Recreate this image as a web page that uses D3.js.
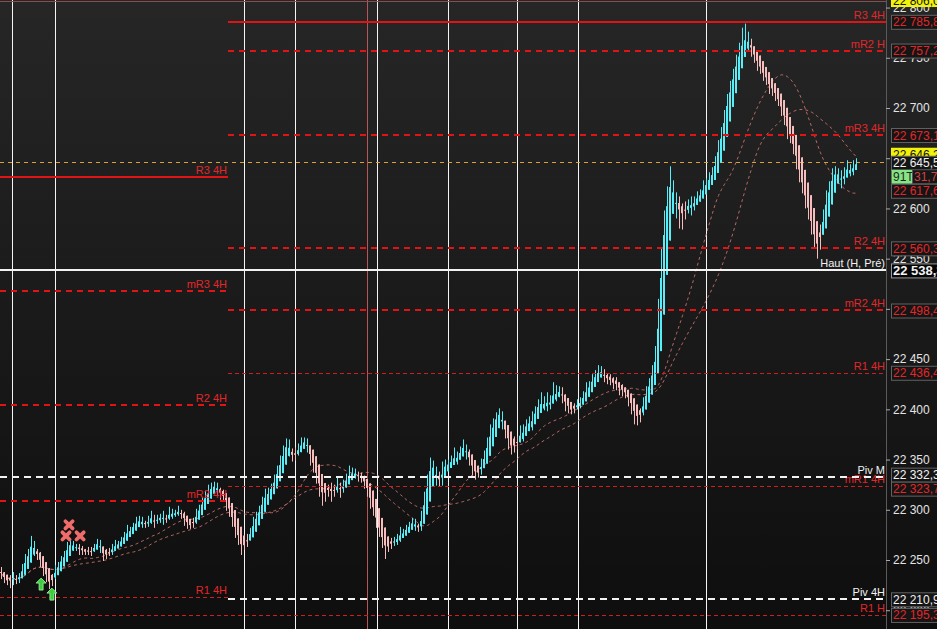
<!DOCTYPE html>
<html><head><meta charset="utf-8">
<script src="https://cdn.jsdelivr.net/npm/d3@7"></script>
<style>html,body{margin:0;padding:0;background:#161616;overflow:hidden}svg{display:block}</style>
</head><body>
<svg id="chart" width="937" height="629"></svg>
<script>
// ---------------- DATA ----------------
const firstOpen = 22240;
const closes = [
22236,22231,22228,22233,22229,22232,22235,22242,22250,22258,
22266,22259,22254,22246,22240,22232,22227,22233,22240,22246,
22250,22256,22262,22266,22264,22262,22261,22259,22258,22257,
22260,22264,22267,22261,22254,22256,22259,22262,22264,22267,
22270,22274,22277,22281,22284,22287,22290,22287,22285,22289,
22292,22288,22291,22294,22290,22292,22295,22297,22296,22298,
22295,22290,22286,22284,22289,22296,22302,22308,22313,22318,
22322,22324,22320,22316,22312,22306,22298,22289,22280,22271,
22264,22266,22272,22279,22287,22294,22301,22308,22313,22318,
22323,22330,22340,22348,22357,22366,22358,22352,22356,22361,
22365,22368,22362,22352,22343,22333,22323,22316,22319,22322,
22318,22321,22324,22320,22326,22330,22334,22337,22335,22333,
22331,22327,22318,22308,22298,22288,22278,22270,22263,22265,
22267,22270,22272,22275,22278,22281,22285,22288,22284,22282,
22295,22312,22330,22345,22340,22332,22328,22340,22345,22346,
22348,22350,22354,22358,22362,22356,22349,22342,22336,22338,
22346,22355,22366,22377,22386,22393,22395,22385,22377,22368,
22361,22365,22370,22374,22380,22386,22384,22392,22399,22405,
22402,22407,22404,22409,22413,22416,22418,22412,22406,22401,
22399,22402,22404,22408,22413,22419,22424,22429,22434,22437,
22436,22433,22430,22428,22426,22424,22421,22419,22416,22411,
22405,22397,22392,22398,22408,22418,22428,22438,22455,22505,
22555,22590,22612,22622,22612,22604,22600,22597,22601,22605,
22603,22608,22611,22614,22620,22626,22630,22636,22648,22662,
22676,22694,22708,22722,22735,22745,22755,22762,22768,22764,
22757,22750,22745,22738,22733,22728,22722,22718,22712,22706,
22698,22688,22677,22670,22660,22647,22632,22620,22608,22595,
22582,22570,22565,22578,22595,22610,22622,22630,22636,22633,
22628,22635,22640,22637,22642,22645];
const upperWicks = [
3,2,4,2,5,3,2,4,6,3, 8,3,2,4,2,3,2,3,5,2, 4,3,6,5,3,2,4,3,2,5, 3,2,4,3,2,5,3,4,6,2,
3,4,8,2,3,6,4,3,2,5, 7,3,4,2,5,3,8,4,3,6, 2,3,4,2,3,5,3,4,6,7, 5,4,3,2,4,3,2,3,2,3,
2,3,4,3,6,4,3,5,8,4, 3,5,4,6,7,5,4,3,6,5, 7,4,3,2,3,2,3,4,6,3, 5,4,8,3,4,6,10,5,4,3,
4,3,2,3,2,3,2,3,4,3, 5,3,4,8,3,4,3,4,3,2, 4,6,5,7,4,3,6,8,5,4, 6,12,4,5,8,3,4,2,3,4,
5,4,6,8,5,4,6,3,2,3, 4,8,3,10,5,4,7,6,4,5, 12,6,10,5,14,8,5,4,3,5, 3,4,6,4,5,8,4,6,5,7,
6,4,3,5,4,6,3,4,3,2, 3,2,4,3,4,5,3,6,8,5, 6,8,10,20,6,4,8,5,6,4, 7,4,6,5,8,4,6,5,4,6,
5,4,6,5,4,8,10,18,16,8, 5,4,6,3,4,5,3,4,5,3, 4,3,5,4,3,4,3,5,4,3, 4,3,5,6,4,8,5,10,6,4,
5,6,8,4,6,5];
const lowerWicks = [
5,4,3,6,4,3,5,3,2,4, 3,5,4,3,6,4,6,3,2,3, 2,4,3,2,5,3,6,4,3,2, 3,2,3,4,5,3,2,4,3,2,
3,2,4,3,2,3,4,5,3,2, 3,6,2,4,5,3,2,4,3,2, 4,6,5,3,2,3,2,3,2,3, 2,4,5,6,4,7,5,6,8,6,
9,4,3,2,3,2,4,3,2,3, 2,3,2,4,3,2,5,4,3,2, 3,2,5,8,6,7,10,12,8,6, 10,5,4,8,3,4,3,2,4,5,
4,6,5,7,4,6,5,8,12,5, 4,3,5,4,3,2,3,4,5,4, 3,2,4,3,6,8,5,4,3,6, 4,3,5,3,2,6,5,8,6,4,
3,4,2,3,4,2,4,5,6,8, 6,4,5,3,6,4,3,5,3,4, 5,3,6,4,3,5,4,6,8,5, 4,3,2,3,2,4,3,2,3,4,
4,6,5,4,6,5,7,6,5,8, 10,12,8,5,4,3,4,3,5,4, 3,4,5,3,10,14,20,18,8,6, 10,5,4,3,4,3,5,4,3,2,
3,4,2,3,4,3,5,4,6,8, 6,5,8,4,6,5,8,6,5,4, 6,5,8,5,6,8,6,5,8,6, 8,10,15,6,4,3,5,4,3,6,
8,4,3,5,4,3];
const maPeriods = [20, 34];

// pivot levels of the current 4H period (start at the period break)
const curNames  = ["R3 4H","mR2 H","mR3 4H","R2 4H","mR2 4H","R1 4H","mR1 4H","Piv 4H"];
const curValues = [22785.8,22757.2,22673.1,22560.3,22498.4,22436.4,22323.7,22210.9];
// levels of the previous 4H period
const prevNames  = ["R3 4H","mR3 4H","R2 4H","mR2 4H","R1 4H"];
const prevValues = [22631.3,22517.8,22404.3,22308.7,22213.1];
// levels across the whole chart
const fullNames  = ["R1 H","Piv M","Haut (H, Pré)"];
const fullValues = [22195.3,22332.3,22538.3];

const periodBreak = 75.5;                       // candle index of the 4H period change
const sessionBreaks = [3.5,17.8,80.8,97.8,125,148.8,171.8,192.2,234.8];
const redBreaks = [121.8];
const axisTicks = [22200,22250,22300,22350,22400,22450,22500,22550,22600,22650,22700,22750,22800];
const lastPrice = 22645.5;
const topLevel = 22806.0;
const yellowValue = 22646.2;
const extraValue = 22617.6;
const timerText = "91T";
const timerValue = "31,7";
const crossIndex = [22.5, 21.5, 26.2];
const crossPrice = [22285, 22274, 22274];
const arrowIndex = [13.2, 16.8];
const arrowPrice = [22232, 22222];

// ---------------- CHART ----------------
const W = 937, H = 629, plotR = 886;
const svg = d3.select("#chart");
const font = "'Liberation Sans', Arial, sans-serif";
const loc = d3.formatLocale({decimal: ",", thousands: " ", grouping: [3], currency: ["", ""]});
const fmt1 = loc.format(",.1f"), fmt0 = loc.format(",.0f");

const x = d3.scaleLinear().domain([0, closes.length - 1]).range([1.5, 1.5 + 3 * (closes.length - 1)]);
const y = d3.scaleLinear().domain([22250, 22700]).range([560, 108]);

const defs = svg.append("defs");
const g = defs.append("linearGradient").attr("id", "bg").attr("x1", 0).attr("x2", 0).attr("y1", 0).attr("y2", 1);
g.append("stop").attr("offset", 0).attr("stop-color", "#262626");
g.append("stop").attr("offset", 1).attr("stop-color", "#0e0e0e");
defs.append("clipPath").attr("id", "plot").append("rect").attr("x", 0).attr("y", 0).attr("width", plotR).attr("height", H);

svg.append("rect").attr("width", W).attr("height", H).attr("fill", "url(#bg)");
const plot = svg.append("g").attr("clip-path", "url(#plot)");

// session lines
plot.selectAll("line.sess").data(sessionBreaks).join("line")
  .attr("x1", d => Math.round(x(d)) + 0.5).attr("x2", d => Math.round(x(d)) + 0.5)
  .attr("y1", 0).attr("y2", H).attr("stroke", "#f4f4f4").attr("stroke-width", 1);
plot.selectAll("line.red").data(redBreaks).join("line")
  .attr("x1", d => Math.round(x(d)) + 0.5).attr("x2", d => Math.round(x(d)) + 0.5)
  .attr("y1", 0).attr("y2", H).attr("stroke", "#b85656").attr("stroke-width", 1);

// top level thin line
plot.append("line").attr("x1", 0).attr("x2", plotR).attr("y1", y(topLevel)).attr("y2", y(topLevel))
  .attr("stroke", "#8a5050").attr("stroke-width", 1);

// last price orange dashed
plot.append("line").attr("x1", 0).attr("x2", plotR).attr("y1", Math.round(y(lastPrice)) - 0.5).attr("y2", Math.round(y(lastPrice)) - 0.5)
  .attr("stroke", "#d9a13a").attr("stroke-width", 1).attr("stroke-dasharray", "4,4");

// moving averages (of the raw closes)
maPeriods.forEach(n => {
  const ma = closes.map((c, i) => d3.mean(closes.slice(Math.max(0, i - n + 1), i + 1)));
  plot.append("path").datum(ma)
    .attr("d", d3.line().x((d, i) => x(i)).y(d => y(d)).curve(d3.curveMonotoneX))
    .attr("fill", "none").attr("stroke", "#cf7670").attr("stroke-opacity", 0.85)
    .attr("stroke-width", 1).attr("stroke-dasharray", "3,3");
});

// raw OHLC -> Heikin-Ashi candles
const raw = closes.map((c, i) => {
  const o = i === 0 ? firstOpen : closes[i - 1];
  return {o, c, h: Math.max(o, c) + upperWicks[i], l: Math.min(o, c) - lowerWicks[i]};
});
const candles = [];
raw.forEach((r, i) => {
  const hc = (r.o + r.h + r.l + r.c) / 4;
  const ho = i === 0 ? (r.o + r.c) / 2 : (candles[i - 1].o + candles[i - 1].c) / 2;
  candles.push({i, o: ho, c: hc, h: Math.max(r.h, ho, hc), l: Math.min(r.l, ho, hc), up: hc >= ho});
});
const upCol = "#58eef8", dnCol = "#f7bcbc";
plot.selectAll("line.wick").data(candles).join("line")
  .attr("x1", d => x(d.i)).attr("x2", d => x(d.i))
  .attr("y1", d => y(d.h)).attr("y2", d => y(d.l))
  .attr("stroke", d => d.up ? upCol : dnCol).attr("stroke-width", 1);
plot.selectAll("rect.body").data(candles).join("rect")
  .attr("x", d => x(d.i) - 1.5).attr("width", 2)
  .attr("y", d => y(Math.max(d.o, d.c)))
  .attr("height", d => Math.max(1, y(Math.min(d.o, d.c)) - y(Math.max(d.o, d.c))))
  .attr("fill", d => d.up ? upCol : dnCol);

// level lines
function lineStyle(name) {
  if (name.startsWith("Piv")) return {stroke: "#f2f2f2", w: 2, dash: "7,5", txt: "#f2f2f2"};
  if (name.startsWith("Haut")) return {stroke: "#f2f2f2", w: 2, dash: null, txt: "#f2f2f2"};
  if (name.startsWith("R3")) return {stroke: "#e01414", w: 2, dash: null, txt: "#e2272a"};
  if (name.includes("R1")) return {stroke: "#cc1f1f", w: 1, dash: "4,3", txt: "#e2272a"};
  return {stroke: "#e01414", w: 2, dash: "6,5", txt: "#e2272a"};
}
function drawLevel(name, v, x0, x1) {
  const s = lineStyle(name);
  const yy = s.w === 1 ? Math.round(y(v)) + 0.5 : Math.round(y(v));
  plot.append("line").attr("x1", x0).attr("x2", x1).attr("y1", yy).attr("y2", yy)
    .attr("stroke", s.stroke).attr("stroke-width", s.w).attr("stroke-dasharray", s.dash);
  plot.append("text").attr("x", x1 - 1).attr("y", yy - 3.5).attr("text-anchor", "end")
    .attr("font-family", font).attr("font-size", 11).attr("fill", s.txt).text(name);
}
const xb = x(periodBreak);
prevNames.forEach((n, k) => drawLevel(n, prevValues[k], 0, xb));
curNames.forEach((n, k) => drawLevel(n, curValues[k], xb, plotR));
fullNames.forEach((n, k) => drawLevel(n, fullValues[k], 0, plotR));

// markers
crossIndex.forEach((ci, k) => {
  const cx = x(ci), cy = y(crossPrice[k]), r = 3.6;
  const gg = svg.append("g").attr("stroke", "#f06b6b").attr("stroke-width", 3.8).attr("stroke-linecap", "round");
  gg.append("line").attr("x1", cx - r).attr("y1", cy - r).attr("x2", cx + r).attr("y2", cy + r);
  gg.append("line").attr("x1", cx - r).attr("y1", cy + r).attr("x2", cx + r).attr("y2", cy - r);
});
arrowIndex.forEach((ai, k) => {
  const ax = x(ai), ay = y(arrowPrice[k]);
  svg.append("path").attr("transform", `translate(${ax},${ay})`)
    .attr("d", "M0,0 L5,5 L2,5 L2,12 L-2,12 L-2,5 L-5,5 Z")
    .attr("fill", "#3ccf3c").attr("stroke", "#a8f5a8").attr("stroke-width", 0.8);
});

// price boxes (positions resolved first so covered tick labels can be skipped)
const boxes = [];
curNames.forEach((n, k) => boxes.push({v: curValues[k], text: fmt1(curValues[k]), col: lineStyle(n).txt, bold: false}));
fullNames.forEach((n, k) => boxes.push({v: fullValues[k], text: fmt1(fullValues[k]), col: lineStyle(n).txt, bold: n.startsWith("Haut")}));
boxes.push({v: lastPrice, text: fmt1(lastPrice), col: "#f0f0f0", bold: false});
boxes.push({v: extraValue, text: fmt1(extraValue), col: "#e2272a", bold: false});
boxes.push({v: lastPrice, text: "", col: "", timer: true, off: 14});
boxes.forEach(b => b.cy = y(b.v) + (b.off || 0));
boxes.sort((a, b) => a.cy - b.cy);
const bh = 14;
for (let it = 0; it < 20; it++) {
  for (let i = 1; i < boxes.length; i++) {
    const d = boxes[i].cy - boxes[i - 1].cy;
    if (d < bh) { const s = (bh - d) / 2; boxes[i - 1].cy -= s; boxes[i].cy += s; }
  }
}
const covered = t => boxes.some(b => Math.abs(b.cy - y(t)) < 4) || y(t) > H;

// right axis
svg.append("line").attr("x1", plotR + 0.5).attr("x2", plotR + 0.5).attr("y1", 0).attr("y2", H)
  .attr("stroke", "#5a5a5a");
const ax = svg.append("g").attr("transform", `translate(${plotR},0)`)
  .call(d3.axisRight(y).tickValues(axisTicks).tickSize(4).tickPadding(3)
    .tickFormat(t => covered(t) ? "" : fmt0(t)));
ax.select(".domain").remove();
ax.selectAll(".tick line").attr("stroke", "#aaa");
ax.selectAll(".tick text").attr("fill", "#e4e4e4").attr("font-family", font).attr("font-size", 12);

// yellow boxes (underneath)
[[topLevel, fmt1(topLevel)], [yellowValue, fmt1(yellowValue)]].forEach(([v, t], k) => {
  const cy = k === 0 ? y(v) - 1.5 : y(lastPrice) - 8;
  svg.append("rect").attr("x", 891).attr("y", cy - 7).attr("width", 50).attr("height", bh)
    .attr("fill", "#f2f20c");
  svg.append("text").attr("x", 893).attr("y", cy + 4.5).attr("font-family", font).attr("font-size", 12)
    .attr("fill", "#111").text(t);
});
boxes.forEach(b => {
  const top = b.cy - bh / 2;
  if (b.timer) {
    svg.append("rect").attr("x", 891.5).attr("y", top).attr("width", 21).attr("height", bh).attr("fill", "#86e486");
    svg.append("text").attr("x", 893).attr("y", top + 11.5).attr("font-family", font).attr("font-size", 12)
      .attr("fill", "#1b2b1b").text(timerText);
    svg.append("rect").attr("x", 912.5).attr("y", top).attr("width", 30).attr("height", bh)
      .attr("fill", "#161616").attr("stroke", "#555");
    svg.append("text").attr("x", 914).attr("y", top + 11.5).attr("font-family", font).attr("font-size", 12)
      .attr("fill", "#d84040").text(timerValue);
    return;
  }
  svg.append("rect").attr("x", 891.5).attr("y", top + 0.5).attr("width", 50).attr("height", bh)
    .attr("fill", b.bold ? "#050505" : "#151515").attr("stroke", b.bold ? "#9a9a9a" : "#626262");
  svg.append("text").attr("x", 893).attr("y", top + 11.5).attr("font-family", font)
    .attr("font-size", b.bold ? 13 : 12).attr("font-weight", b.bold ? "bold" : "normal")
    .attr("fill", b.col).text(b.text);
});
</script>
</body></html>
